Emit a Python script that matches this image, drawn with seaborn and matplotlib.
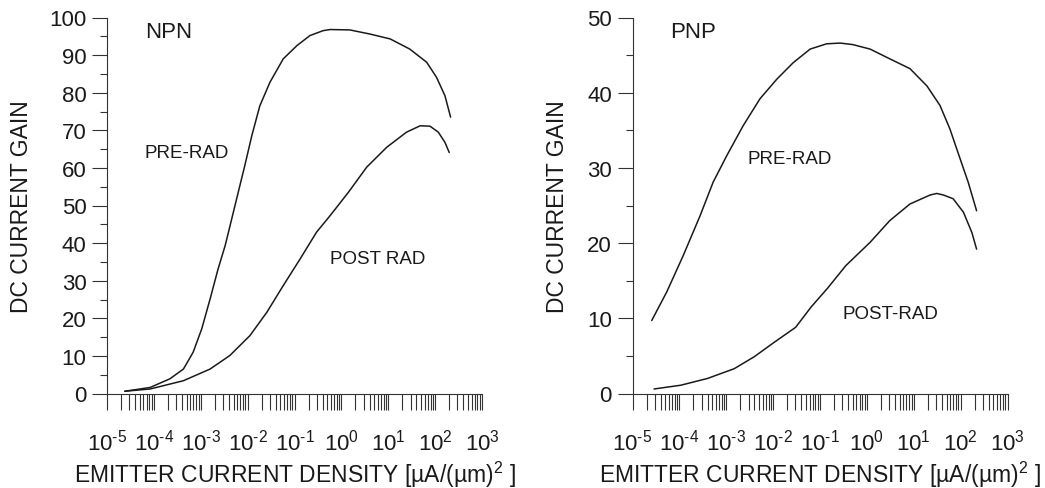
## Script name: dc_gain_vs_current_density
# Purpose: DC current gain vs emitter current density, NPN and PNP, pre/post radiation

import numpy as np
import pandas as pd
import seaborn as sns
import matplotlib.pyplot as plt
from matplotlib.ticker import LogLocator, MultipleLocator, NullFormatter, FuncFormatter

# ---- data ----
# NPN
npn_pre_j = [2.40e-5, 8.3e-5, 2.19e-4, 4.27e-4, 6.9e-4, 1.05e-3, 1.58e-3, 2.34e-3,
             3.31e-3, 4.57e-3, 6.3e-3, 8.7e-3, 1.23e-2, 1.82e-2, 3.0e-2, 5.75e-2,
             0.112, 0.214, 0.407, 0.575, 1.51, 4.07, 11.0, 28.8, 66, 107, 162, 214]
npn_pre_gain = [0.6, 1.6, 3.9, 6.5, 11.0, 17.2, 25.1, 33.1, 39.3, 46.4, 53.5, 60.6,
                68.6, 76.5, 82.8, 89.0, 92.5, 95.2, 96.5, 96.8, 96.7, 95.6, 94.3,
                91.6, 88.1, 84.1, 79.2, 73.5]
npn_post_j = [2.40e-5, 8.3e-5, 4.27e-4, 1.58e-3, 4.17e-3, 1.12e-2, 2.57e-2, 5.75e-2,
              0.132, 0.295, 0.575, 1.41, 3.47, 9.3, 24.5, 47.9, 77.6, 117, 162, 200]
npn_post_gain = [0.6, 1.2, 3.4, 6.5, 10.1, 15.4, 21.6, 28.7, 35.8, 42.9, 47.3, 53.5,
                 60.2, 65.5, 69.5, 71.2, 71.1, 69.5, 66.8, 64.1]

# PNP
pnp_pre_j = [2.57e-5, 5.37e-5, 1.20e-4, 2.75e-4, 5.25e-4, 1.02e-3, 2.29e-3, 5.25e-3,
             1.20e-2, 2.69e-2, 6.17e-2, 0.138, 0.269, 0.50, 1.17, 3.09, 8.3, 19.1,
             36.3, 58.9, 97.7, 145, 219]
pnp_pre_gain = [9.7, 13.5, 18.3, 23.6, 28.1, 31.6, 35.6, 39.2, 41.8, 44.0, 45.8,
                46.5, 46.6, 46.4, 45.8, 44.5, 43.2, 40.9, 38.3, 35.2, 31.2, 28.1, 24.3]
pnp_post_j = [2.88e-5, 1.07e-4, 3.98e-4, 1.48e-3, 3.98e-3, 1.05e-2, 3.02e-2, 6.46e-2,
              0.145, 0.355, 1.17, 3.09, 8.3, 22.4, 30.9, 42.7, 69.2, 115, 174, 219]
pnp_post_gain = [0.6, 1.1, 2.0, 3.3, 4.9, 6.8, 8.8, 11.5, 14.0, 17.0, 20.1, 23.0,
                 25.2, 26.4, 26.6, 26.4, 25.9, 24.1, 21.4, 19.2]

# ---- style ----
sns.set_style('ticks')
plt.rcParams['font.family'] = ['Liberation Sans', 'DejaVu Sans']
plt.rcParams['mathtext.fontset'] = 'custom'
plt.rcParams['mathtext.rm'] = 'Liberation Sans'
plt.rcParams['mathtext.it'] = 'Liberation Sans:italic'
plt.rcParams['text.color'] = '#1a1a1a'
plt.rcParams['axes.labelcolor'] = '#1a1a1a'
plt.rcParams['xtick.color'] = '#333333'
plt.rcParams['ytick.color'] = '#333333'
plt.rcParams['xtick.labelcolor'] = '#1a1a1a'
plt.rcParams['ytick.labelcolor'] = '#1a1a1a'

fig = plt.figure(figsize=(10.45, 4.89), dpi=100)
ax_npn = fig.add_axes([107 / 1045, 94.5 / 489, 375 / 1045, 376 / 489])
ax_pnp = fig.add_axes([632.5 / 1045, 94.5 / 489, 375 / 1045, 376 / 489])

xlabel = 'EMITTER CURRENT DENSITY [\u00b5A/(\u00b5m)$^{2}$ ]'


def decade_label(value, pos):
    # 10^n with a short hyphen in the exponent, like the original figure
    n = int(round(np.log10(value)))
    exp = '\\text{-}' + str(abs(n)) if n < 0 else str(n)
    return '$\\mathregular{10^{' + exp + '}}$'


def draw_panel(ax, pre_j, pre_gain, post_j, post_gain, ymax, ylabel_x):
    pre = pd.DataFrame({'j': pre_j, 'gain': pre_gain})
    post = pd.DataFrame({'j': post_j, 'gain': post_gain})
    sns.lineplot(data=pre, x='j', y='gain', ax=ax, color='#1a1a1a', lw=1.1)
    sns.lineplot(data=post, x='j', y='gain', ax=ax, color='#1a1a1a', lw=1.1)

    ax.set_xscale('log')
    ax.set_xlim(1e-5, 1e3)
    ax.set_ylim(0, ymax)
    ax.xaxis.set_major_locator(LogLocator(base=10, numticks=20))
    ax.xaxis.set_major_formatter(FuncFormatter(decade_label))
    ax.xaxis.set_minor_locator(LogLocator(base=10, subs=range(2, 10), numticks=20))
    ax.xaxis.set_minor_formatter(NullFormatter())
    ax.yaxis.set_major_locator(MultipleLocator(10))
    ax.yaxis.set_minor_locator(MultipleLocator(5))

    ax.tick_params(axis='x', which='both', direction='out', length=11.5, width=0.8,
                   labelsize=16, pad=14)
    ax.tick_params(axis='y', which='major', direction='out', length=10.8, width=0.8,
                   labelsize=16, pad=4)
    ax.tick_params(axis='y', which='minor', direction='out', length=5.4, width=0.8)

    sns.despine(ax=ax)
    for side in ['left', 'bottom']:
        ax.spines[side].set_linewidth(0.8)
        ax.spines[side].set_color('#333333')

    ax.set_xlabel(xlabel, fontsize=16.5)
    ax.xaxis.label.set_va('baseline')
    ax.xaxis.set_label_coords(0.5, -0.236)
    ax.set_ylabel('DC CURRENT GAIN', fontsize=16.5)
    ax.yaxis.label.set_va('center')
    ax.yaxis.set_label_coords(ylabel_x, 0.5)


draw_panel(ax_npn, npn_pre_j, npn_pre_gain, npn_post_j, npn_post_gain, 100, -0.227)
draw_panel(ax_pnp, pnp_pre_j, pnp_pre_gain, pnp_post_j, pnp_post_gain, 50, -0.199)

ax_npn.text(6.4e-5, 96.4, 'NPN', fontsize=16, ha='left', va='center')
ax_npn.text(6.4e-5, 64.2, 'PRE-RAD', fontsize=13.5, ha='left', va='center')
ax_npn.text(0.57, 35.8, 'POST RAD', fontsize=13.5, ha='left', va='center')

ax_pnp.text(6.3e-5, 48.2, 'PNP', fontsize=16, ha='left', va='center')
ax_pnp.text(2.9e-3, 31.2, 'PRE-RAD', fontsize=13.5, ha='left', va='center')
ax_pnp.text(0.295, 10.6, 'POST-RAD', fontsize=13.5, ha='left', va='center')

plt.savefig('out.png', dpi=100)
plt.close()
